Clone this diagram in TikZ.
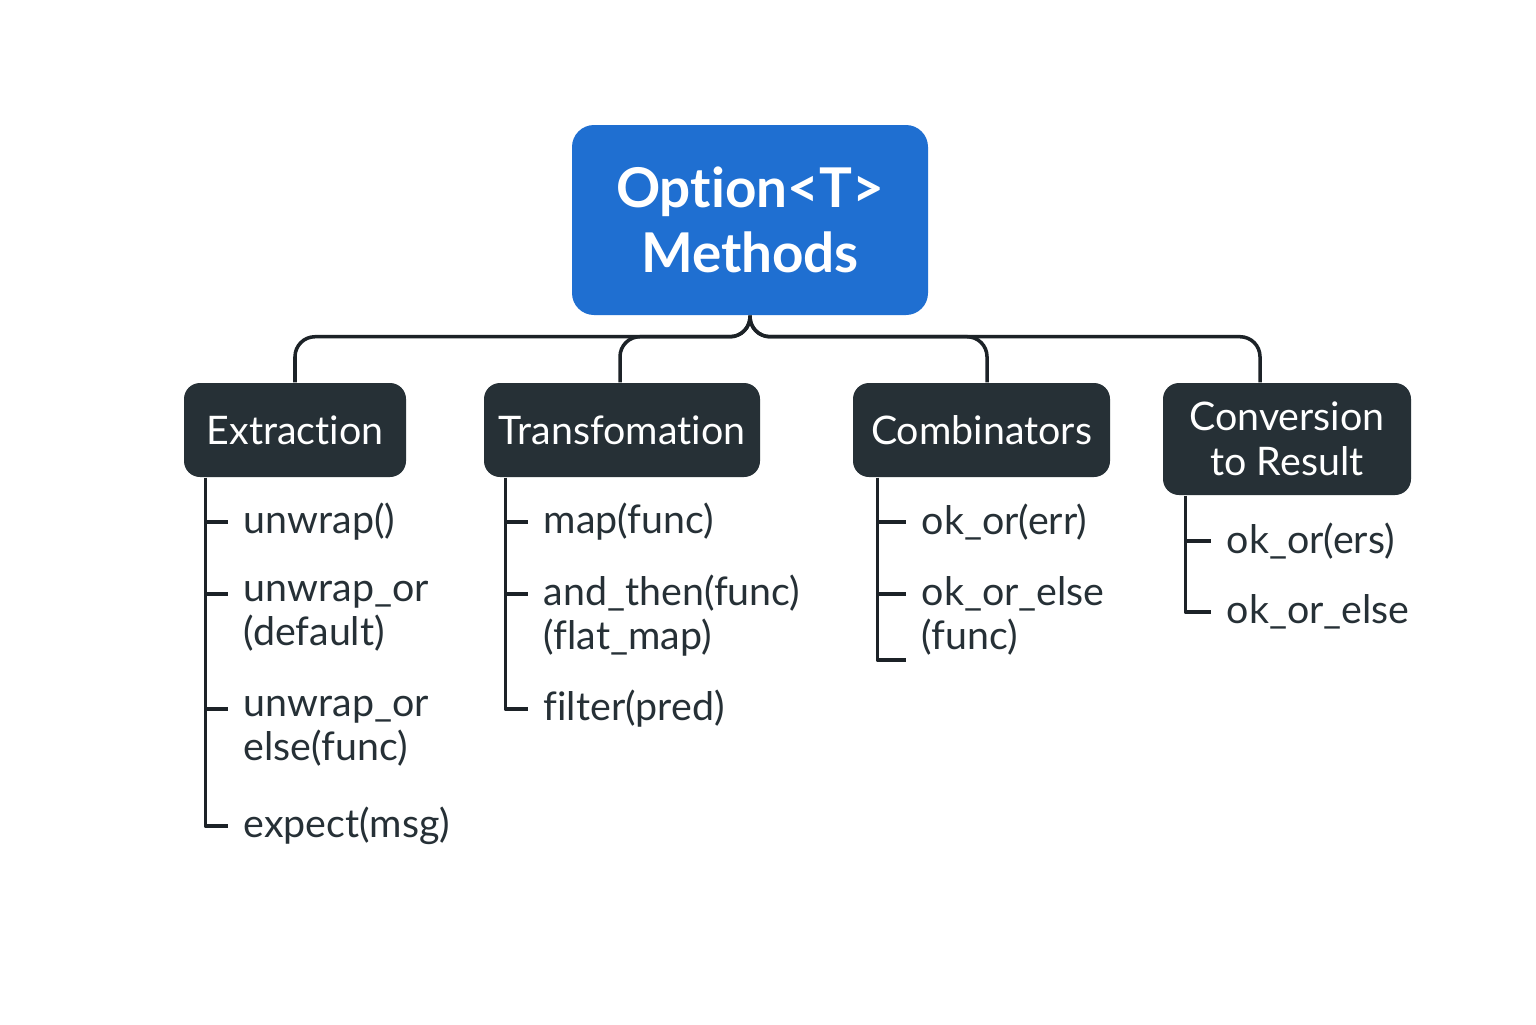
\documentclass[tikz,border=0pt]{standalone}
\usepackage{fontspec}
\setmainfont{Lato}[Ligatures=NoCommon]
\usetikzlibrary{positioning}
\definecolor{rootblue}{HTML}{1F6FD1}
\definecolor{boxdark}{HTML}{263036}
\definecolor{linedark}{HTML}{1C2227}
\tikzset{
  rootbox/.style={fill=rootblue, text=white, rounded corners=0.22cm, minimum width=3.56cm, minimum height=1.9cm, align=center, font=\fontsize{15.6}{18.6}\selectfont\bfseries},
  groupbox/.style={fill=boxdark, text=white, rounded corners=0.16cm, minimum height=0.94cm, align=center, font=\fontsize{11.2}{12.8}\selectfont},
  item/.style={anchor=west, inner xsep=0.15cm, inner ysep=0pt, align=left, text=boxdark, font=\fontsize{11.2}{12.5}\selectfont},
  link/.style={draw=linedark, line width=1pt, rounded corners=0.2cm},
  spine/.style={draw=linedark, line width=1pt}
}
\begin{document}
\begin{tikzpicture}[line join=round]
\useasboundingbox[fill=white] (0,0) rectangle (15.36,-10.24);
% root and groups
\node[rootbox] (root) at (7.50,-2.20) {Option<T>\\Methods};
\node[groupbox, minimum width=2.22cm] (ext) at (2.95,-4.30) {Extraction};
\node[groupbox, minimum width=2.76cm] (trf) at (6.22,-4.30) {Transfomation};
\node[groupbox, minimum width=2.57cm] (cmb) at (9.815,-4.30) {Combinators};
\node[groupbox, minimum width=2.48cm, minimum height=1.12cm] (cnv) at (12.87,-4.39) {Conversion\\to Result};
% branches
\draw[link] (root.south) -- ++(0,-0.21) -| (ext.north);
\draw[link] (root.south) -- ++(0,-0.21) -| ([xshift=-0.02cm]trf.north);
\draw[link] (root.south) -- ++(0,-0.21) -| ([xshift=0.055cm]cmb.north);
\draw[link] (root.south) -- ++(0,-0.21) -| ([xshift=-0.27cm]cnv.north);
% Extraction
\coordinate (es) at ([xshift=0.22cm]ext.south west);
\node[item] (e1) at (2.28,-5.22) {unwrap()};
\node[item] (e2) at (2.28,-6.16) {unwrap\_or\\(default)};
\node[item] (e3) at (2.28,-7.31) {unwrap\_or\\else(func)};
\node[item] (e4) at (2.28,-8.26) {expect(msg)};
\coordinate (e2t) at ([yshift=0.22cm]e2.west);
\coordinate (e3t) at ([yshift=0.22cm]e3.west);
\draw[spine] (es) |- (e4.west);
\draw[spine] (es |- e1.west) -- (e1.west);
\draw[spine] (es |- e2t) -- (e2t);
\draw[spine] (es |- e3t) -- (e3t);
% Transfomation
\coordinate (ts) at ([xshift=0.22cm]trf.south west);
\node[item] (t1) at (5.28,-5.22) {map(func)};
\node[item] (t2) at (5.28,-6.16) {and\_then(func)\\(flat\_map)};
\node[item] (t3) at (5.28,-7.09) {filter(pred)};
\coordinate (t2t) at ([yshift=0.22cm]t2.west);
\draw[spine] (ts) |- (t3.west);
\draw[spine] (ts |- t1.west) -- (t1.west);
\draw[spine] (ts |- t2t) -- (t2t);
% Combinators
\coordinate (cs) at ([xshift=0.25cm]cmb.south west);
\node[item] (c1) at (9.06,-5.22) {ok\_or(err)};
\node[item] (c2) at (9.06,-6.16) {ok\_or\_else\\(func)};
\coordinate (c2t) at ([yshift=0.22cm]c2.west);
\coordinate (c2b) at ([yshift=-0.44cm]c2.west);
\draw[spine] (cs) |- (c2b);
\draw[spine] (cs |- c1.west) -- (c1.west);
\draw[spine] (cs |- c2t) -- (c2t);
% Conversion to Result
\coordinate (rs) at ([xshift=0.23cm]cnv.south west);
\node[item] (r1) at (12.11,-5.41) {ok\_or(ers)};
\node[item] (r2) at (12.11,-6.12) {ok\_or\_else};
\draw[spine] (rs) |- (r2.west);
\draw[spine] (rs |- r1.west) -- (r1.west);
\end{tikzpicture}
\end{document}
